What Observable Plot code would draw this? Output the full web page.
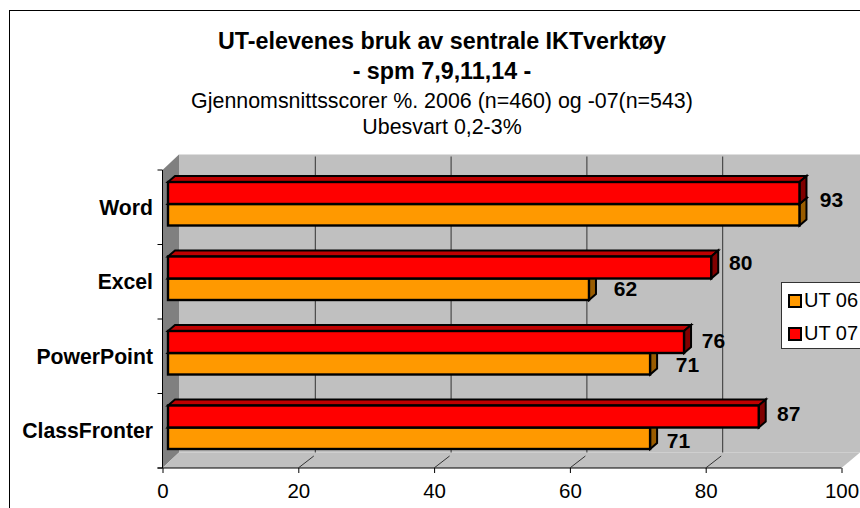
<!DOCTYPE html>
<html>
<head>
<meta charset="utf-8">
<script src="https://cdn.jsdelivr.net/npm/d3@7"></script>
<script src="https://cdn.jsdelivr.net/npm/@observablehq/plot@0.6"></script>
<style>
html,body{margin:0;padding:0;background:#fff;overflow:hidden}
#page{position:relative;width:860px;height:508px;overflow:hidden;font-family:"Liberation Sans",Arial,sans-serif;color:#000}
#border{position:absolute;left:9px;top:10px;width:900px;height:600px;border:1px solid #000;box-sizing:border-box;pointer-events:none}
#head{position:absolute;left:0;top:0;width:884px;height:150px;text-align:center}
#head div{position:absolute;left:0;width:884px;white-space:nowrap}
.t{font-weight:bold;font-size:23.3px;line-height:22px}
.s{font-size:21.4px;line-height:22px}
#chart{position:absolute;left:0;top:150px}
#legend{position:absolute;left:781px;top:282px;width:120px;height:67px;box-sizing:border-box;background:#fff;border:1px solid #333}
.item{position:absolute;left:6px;font-size:20px;line-height:22px;white-space:nowrap}
.item i{display:inline-block;box-sizing:border-box;width:14px;height:14px;border:2px solid #000;vertical-align:-1px;margin-right:2px}
</style>
</head>
<body>
<div id="page">
  <div id="head"></div>
  <div id="chart"></div>
  <div id="legend"></div>
  <div id="border"></div>
</div>
<script>
const titleLines = ["UT-elevenes bruk av sentrale IKTverktøy", "- spm 7,9,11,14 -"];
const subtitleLines = ["Gjennomsnittsscorer %. 2006 (n=460) og -07(n=543)", "Ubesvart 0,2-3%"];
const categories = ["Word", "Excel", "PowerPoint", "ClassFronter"];
const ut06 = [93, 62, 71, 71];
const ut07 = [93, 80, 76, 87];
const seriesNames = ["UT 06", "UT 07"];
const xTicks = [0, 20, 40, 60, 80, 100];

const rows06 = categories.map((c, i) => ({cat: c, value: ut06[i]}));
const rows07 = categories.map((c, i) => ({cat: c, value: ut07[i]}));

const colors = {
  "UT 06": {front: "#FF9900", top: "#BF7300", side: "#995C00"},
  "UT 07": {front: "#FF0000", top: "#BF0000", side: "#800000"}
};
const barShift = 5.5, depthX = 7, depthY = 6;
const wallX = 16.5, wallY = 15.5;

function chrome(index, {x, y}, values, d) {
  const g = d3.create("svg:g");
  const bottom = d.height - d.marginBottom, top = d.marginTop;
  const left = x(0), right = x(100);
  const wall = (pts, fill) => g.append("path").attr("d", "M" + pts.join("L") + "Z").attr("fill", fill);
  wall([[left + wallX, top - wallY], [right + wallX + 2, top - wallY], [right + wallX + 2, bottom - wallY], [left + wallX, bottom - wallY]], "#C0C0C0");
  wall([[left, top], [left + wallX, top - wallY], [left + wallX, bottom - wallY], [left, bottom]], "#808080");
  wall([[left, bottom], [left + wallX, bottom - wallY], [right + wallX + 2, bottom - wallY], [right, bottom]], "#C0C0C0");
  return g.node();
}

function axesLines(index, {x, y}, values, d) {
  const g = d3.create("svg:g").attr("stroke", "#000").attr("fill", "none");
  const bottom = d.height - d.marginBottom, top = d.marginTop;
  const left = x(0), right = x(100);
  const step = (bottom - top) / categories.length;
  let p = `M${left},${top}V${bottom}M${left - 5},${bottom}H${right}`;
  d3.range(categories.length + 1).forEach(i => { p += `M${left - 5},${top + i * step}H${left}`; });
  g.append("path").attr("d", p);
  let diag = "";
  xTicks.filter(t => t > 0 && t < 100).forEach(t => {
    diag += `M${x(t)},${bottom}L${x(t) + wallX - 1},${bottom - 12}`;
  });
  g.append("path").attr("d", diag).attr("stroke", "#333");
  return g.node();
}

function faces(name, rows) {
  const [yTop, yBot] = name === "UT 07" ? [12, 34] : [34, 55.5];
  return (index, {x, y}) => {
    const g = d3.create("svg:g").attr("stroke", "#000").attr("stroke-width", 2).attr("stroke-linejoin", "miter");
    rows.forEach(r => {
      const x0 = x(0) + barShift, x1 = x(r.value) + barShift;
      const y0 = y(r.cat) + yTop, y1 = y(r.cat) + yBot;
      g.append("path").attr("fill", colors[name].top)
        .attr("d", `M${x0},${y0}L${x0 + depthX},${y0 - depthY}H${x1 + depthX}L${x1},${y0}Z`);
      g.append("path").attr("fill", colors[name].side)
        .attr("d", `M${x1},${y0}L${x1 + depthX},${y0 - depthY}V${y1 - depthY}L${x1},${y1}Z`);
    });
    return g.node();
  };
}

function bars(name, rows) {
  const [insetTop, insetBottom] = name === "UT 07" ? [12, 74.5 - 34] : [34, 74.5 - 55.5];
  return Plot.barX(rows, {
    x: "value", y: "cat", dx: barShift, insetTop, insetBottom,
    fill: colors[name].front, stroke: "#000", strokeWidth: 2.4
  });
}

const nudges = [
  [rows07[0], 37, -7], [rows07[1], 34.5, -19], [rows06[1], 41.5, 7.5],
  [rows07[2], 34.5, -15], [rows06[2], 42.4, 9], [rows07[3], 35, -17], [rows06[3], 33.4, 10]
];
const labelMarks = nudges.map(([r, dx, dy]) =>
  Plot.text([r], {x: "value", y: "cat", text: d => String(d.value), dx, dy,
    fontSize: 21, fontWeight: "bold", fill: "#000", textAnchor: "middle", lineAnchor: "middle"}));

const plot = Plot.plot({
  width: 860, height: 358,
  marginLeft: 162.5, marginRight: 18.5, marginTop: 20, marginBottom: 40,
  style: {background: "transparent", fontFamily: '"Liberation Sans", Arial, sans-serif', color: "#000", overflow: "hidden"},
  x: {domain: [0, 100]},
  y: {domain: categories, padding: 0, round: false, align: 0.5},
  marks: [
    chrome,
    Plot.ruleX(xTicks.filter(t => t > 0 && t < 100), {x: d => d, dx: wallX, dy: -wallY, insetTop: 2, stroke: "#333", strokeWidth: 1}),
    axesLines,
    faces("UT 06", rows06), bars("UT 06", rows06),
    faces("UT 07", rows07), bars("UT 07", rows07),
    Plot.axisX({ticks: xTicks, tickFormat: d => String(d), tickSize: 5, tickPadding: 10, fontSize: 20.5, label: null, stroke: "#000", fill: "#000"}),
    Plot.axisY({tickSize: 0, tickPadding: 10, fontSize: 21.2, fontWeight: "bold", label: null, fill: "#000"}),
    ...labelMarks
  ]
});
document.getElementById("chart").append(plot);

const head = document.getElementById("head");
const rowsHead = [
  [titleLines[0], "t", 30], [titleLines[1], "t", 60],
  [subtitleLines[0], "s", 90], [subtitleLines[1], "s", 116]
];
rowsHead.forEach(([txt, cls, top]) => {
  const e = document.createElement("div");
  e.className = cls; e.textContent = txt; e.style.top = top + "px";
  head.append(e);
});
const legend = document.getElementById("legend");
seriesNames.forEach((n, i) => {
  const e = document.createElement("div");
  e.className = "item";
  e.style.top = (i === 0 ? 6 : 39) + "px";
  const sw = document.createElement("i");
  sw.style.background = colors[n].front;
  e.append(sw, document.createTextNode(n));
  legend.append(e);
});
</script>
</body>
</html>
